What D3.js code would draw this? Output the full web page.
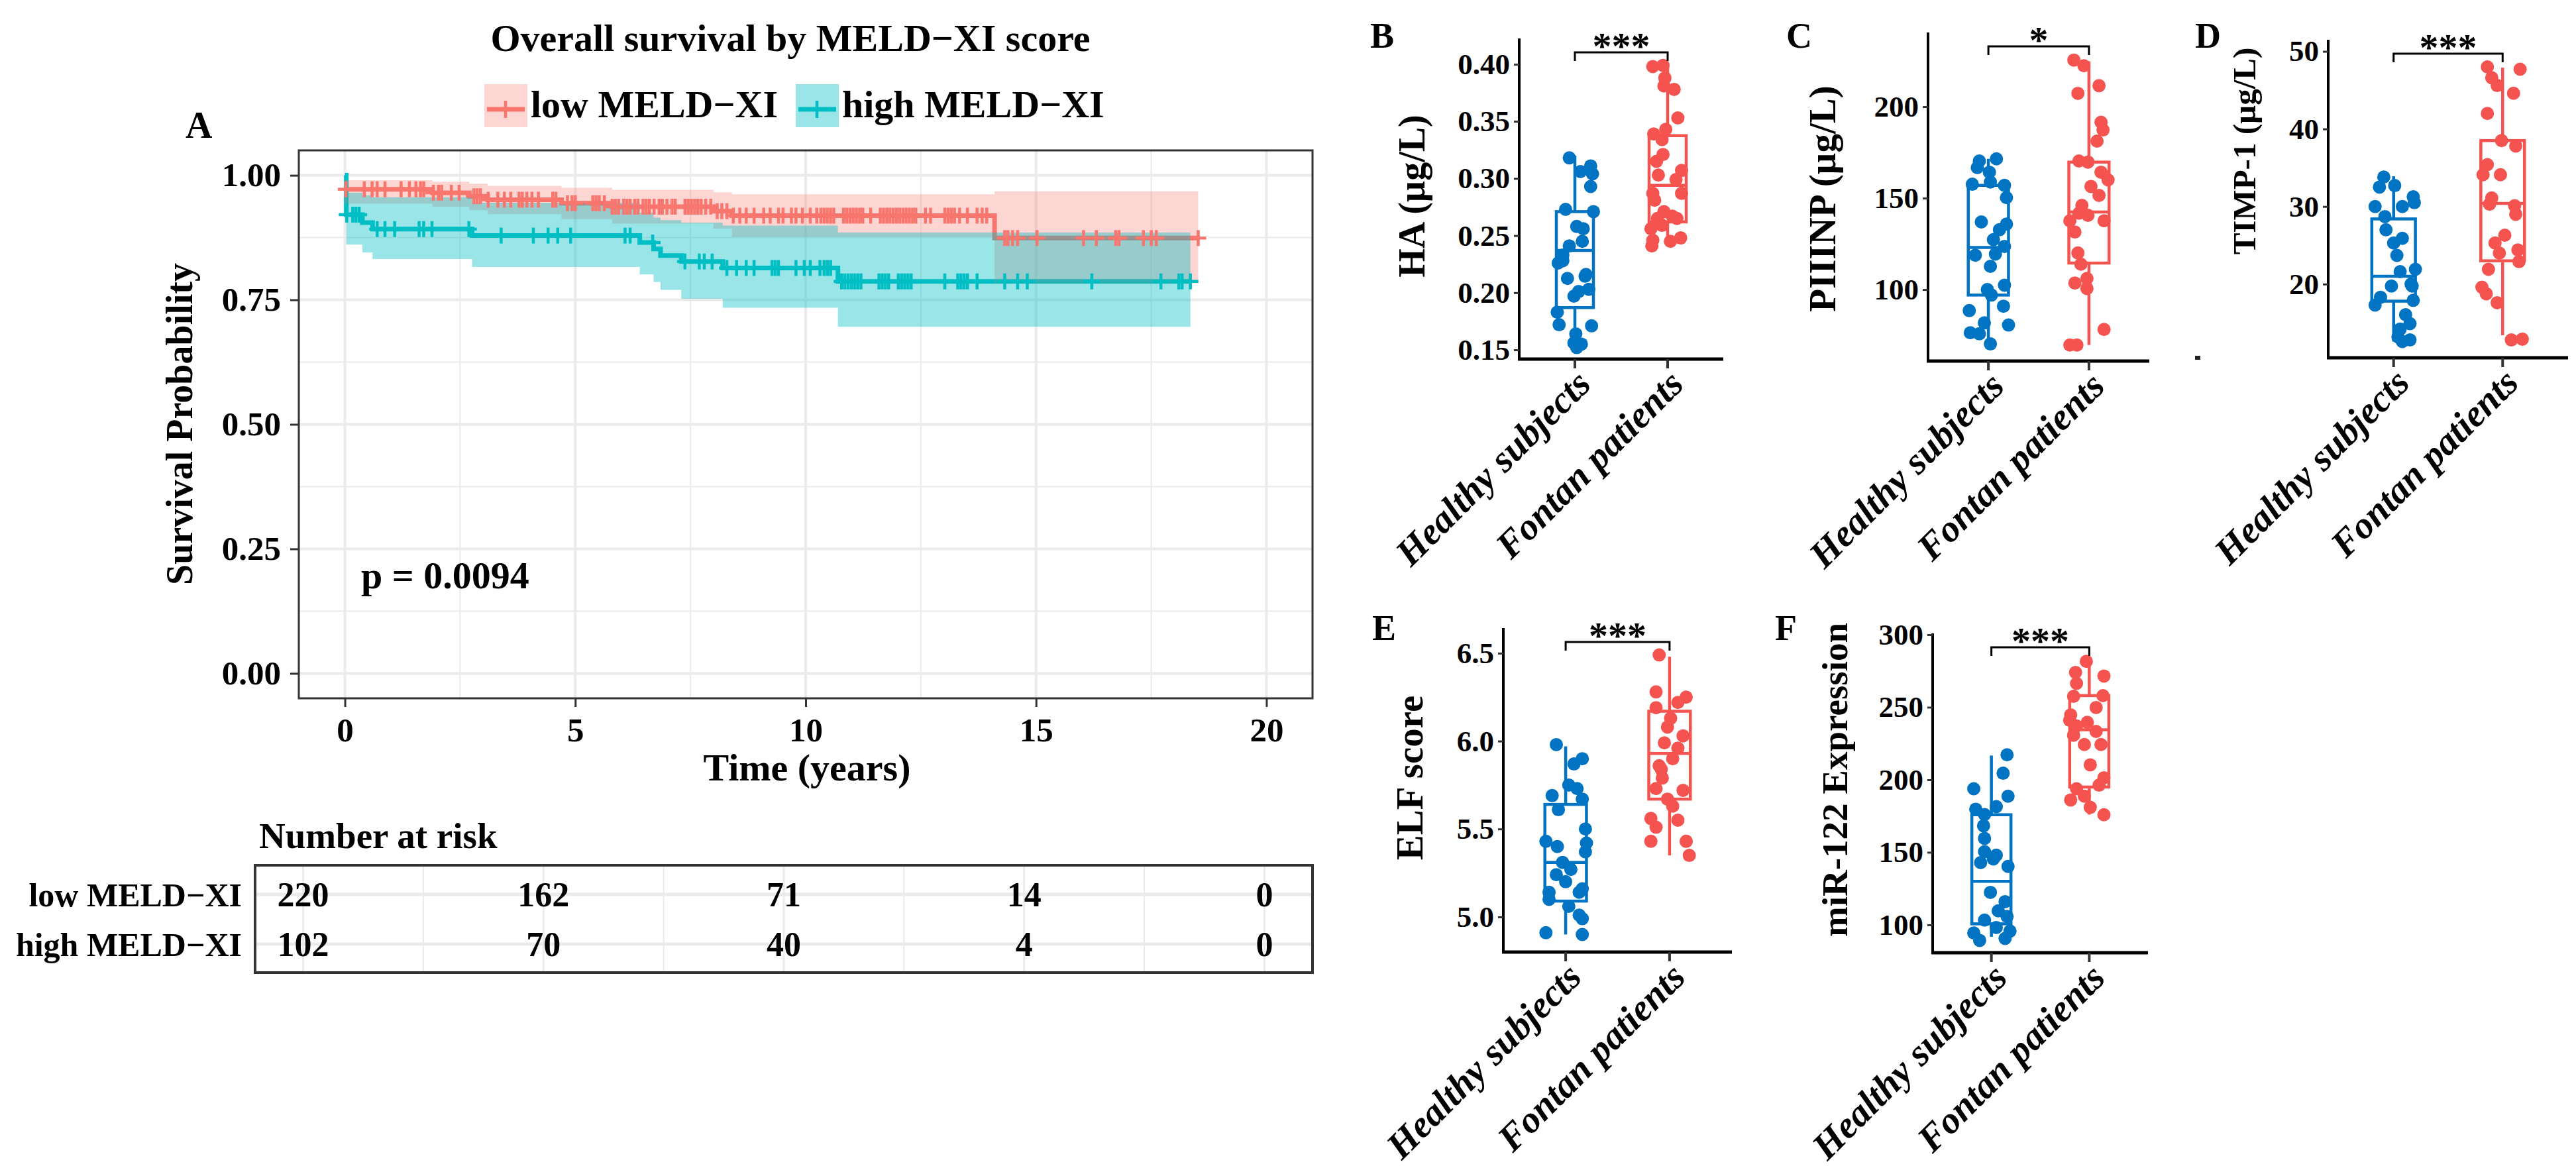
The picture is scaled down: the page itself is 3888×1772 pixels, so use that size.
<!DOCTYPE html>
<html>
<head>
<meta charset="utf-8">
<script src="https://cdn.jsdelivr.net/npm/d3@7"></script>
<style>
body { margin: 0; background: #fff; }
svg { display: block; font-family: "Liberation Serif", "Times New Roman", serif; }
</style>
</head>
<body>
<svg id="fig" width="3888" height="1772"></svg>
<script>
// ---- panel A: Kaplan-Meier by MELD-XI ----
var groupNames = ["low MELD\u2212XI", "high MELD\u2212XI"];
var kmTimeTicks = [0, 5, 10, 15, 20];
var kmProbTicks = [0, 0.25, 0.5, 0.75, 1];
var pValueText = "p = 0.0094";

var lowTimes = [0, 1.9, 2.7, 3.1, 4.7, 5.8, 8.0, 8.4, 14.1];
var lowSurv  = [0.972, 0.965, 0.958, 0.951, 0.944, 0.937, 0.928, 0.919, 0.874];
var lowUpper = [0.990, 0.987, 0.983, 0.979, 0.975, 0.971, 0.966, 0.962, 0.968];
var lowLower = [0.943, 0.937, 0.930, 0.922, 0.912, 0.903, 0.893, 0.876, 0.783];
var lowEnd = 18.52;
var lowCensor = [0.02, 0.42, 0.59, 0.70, 0.87, 1.22, 1.40, 1.54, 1.64, 1.71, 1.92, 2.03, 2.10, 2.31, 2.48,
  2.80, 2.87, 2.94, 3.11, 3.32, 3.46, 3.60, 3.78, 3.85, 3.95, 4.06, 4.20, 4.51, 4.58, 4.83, 4.93, 5.00,
  5.38, 5.45, 5.52, 5.63, 5.80, 5.87, 5.94, 6.05, 6.12, 6.19, 6.29, 6.36, 6.47, 6.54, 6.61, 6.71, 6.82,
  6.89, 6.99, 7.10, 7.17, 7.38, 7.45, 7.52, 7.59, 7.66, 7.73, 7.83, 7.94, 8.08, 8.18, 8.29, 8.43, 8.57,
  8.71, 8.88, 9.09, 9.23, 9.41, 9.51, 9.69, 9.79, 9.93, 10.10, 10.24, 10.33, 10.40, 10.47, 10.54, 10.61,
  10.82, 10.89, 10.96, 11.03, 11.10, 11.17, 11.24, 11.41, 11.62, 11.69, 11.76, 11.83, 11.90, 11.97, 12.04,
  12.11, 12.18, 12.25, 12.32, 12.39, 12.60, 12.71, 13.02, 13.09, 13.16, 13.23, 13.34, 13.51, 13.72, 13.83,
  13.93, 14.32, 14.39, 14.49, 14.60, 15.02, 16.03, 16.31, 16.73, 16.80, 17.33, 17.50, 17.61, 18.52];

var highTimes = [0, 0.03, 0.38, 0.6, 2.76, 6.4, 6.7, 6.85, 7.3, 8.2, 10.7];
var highSurv  = [1.0, 0.921, 0.905, 0.892, 0.879, 0.865, 0.852, 0.839, 0.827, 0.814, 0.787];
var highUpper = [1.0, 0.965, 0.960, 0.956, 0.945, 0.925, 0.915, 0.910, 0.905, 0.899, 0.885];
var highLower = [1.0, 0.861, 0.845, 0.832, 0.816, 0.801, 0.786, 0.770, 0.752, 0.734, 0.696];
var highEnd = 18.35;
var highCensor = [0.04, 0.17, 0.24, 0.31, 0.70, 0.87, 1.08, 1.61, 1.71, 1.89, 2.69, 3.39, 4.09, 4.41,
  4.62, 4.90, 6.08, 6.19, 6.68, 7.38, 7.69, 7.80, 7.97, 8.29, 8.50, 8.71, 8.88, 9.27, 9.34, 9.41, 9.79,
  9.97, 10.10, 10.31, 10.40, 10.47, 10.54, 10.78, 10.85, 10.92, 10.99, 11.06, 11.13, 11.20, 11.59, 11.66,
  11.73, 11.80, 12.01, 12.08, 12.15, 12.22, 12.29, 13.02, 13.30, 13.37, 13.44, 13.51, 13.72, 14.32,
  14.60, 14.81, 16.21, 17.71, 18.10, 18.17, 18.35];

var riskTimes = [0, 5, 10, 15, 20];
var riskLow = [220, 162, 71, 14, 0];
var riskHigh = [102, 70, 40, 4, 0];

// ---- panels B-F: box plots ----
var boxCategories = ["Healthy subjects", "Fontan patients"];

var haTicks = [0.15, 0.20, 0.25, 0.30, 0.35, 0.40];
var haHealthy = [0.318, 0.311, 0.306, 0.304, 0.293, 0.273, 0.271, 0.258, 0.256, 0.245, 0.241, 0.233, 0.226, 0.2125,
  0.2145, 0.203, 0.197, 0.201, 0.183, 0.172, 0.171, 0.164, 0.156, 0.155, 0.152, 0.216, 0.228];
var haHealthyJit = [-0.06, 0.17, 0.06, 0.19, 0.17, -0.10, 0.20, 0.02, 0.09, 0.08, -0.06, -0.13, -0.18, -0.08,
  0.11, 0.15, -0.01, 0.04, -0.19, -0.17, 0.18, 0.01, -0.01, 0.07, 0.02, 0.12, -0.13];
var haFontan = [0.398, 0.399, 0.388, 0.381, 0.378, 0.353, 0.343, 0.339, 0.334, 0.321, 0.315, 0.307, 0.303, 0.299,
  0.287, 0.287, 0.281, 0.271, 0.265, 0.265, 0.256, 0.259, 0.246, 0.241, 0.245, 0.248, 0.267];
var haFontanJit = [-0.16, -0.05, -0.03, -0.04, 0.07, 0.11, -0.02, -0.15, -0.06, -0.05, -0.12, 0.15, -0.10, 0.09,
  0.15, -0.16, -0.14, -0.04, -0.11, 0.10, -0.18, -0.06, -0.16, -0.17, 0.03, 0.14, 0.05];
var haHealthyBox = [0.150, 0.187, 0.237, 0.271, 0.320];
var haFontanBox = [0.249, 0.262, 0.294, 0.3375, 0.400];

var p3Ticks = [100, 150, 200];
var p3Healthy = [170.3, 171.5, 166.7, 164.2, 157.6, 158.8, 157, 150.3, 137, 135.8, 132.7, 127.3, 123.6, 118.8,
  119.4, 112.7, 102.4, 100, 97, 90.9, 88.5, 81.8, 80.6, 76.4, 75.8, 70.3];
var p3HealthyJit = [-0.09, 0.08, -0.11, 0.01, -0.16, 0.02, 0.16, 0.18, -0.07, 0.18, 0.11, 0.05, 0.16, -0.13,
  0.07, 0.02, 0.16, -0.01, 0.03, 0.15, -0.19, -0.04, 0.20, -0.18, -0.09, 0.02];
var p3Fontan = [225.5, 222.4, 211.5, 207.3, 191.5, 187.3, 181.2, 170.3, 169.7, 164.2, 160, 156.4, 151.5, 146,
  141.8, 137.6, 140.6, 137.6, 131.5, 120, 113.9, 106.1, 103.6, 100.6, 78.2, 69.7, 69.7];
var p3FontanJit = [-0.15, -0.05, 0.10, -0.11, 0.12, 0.14, 0.08, -0.10, -0.01, 0.12, 0.19, 0.02, 0.10, -0.07,
  -0.10, -0.19, -0.01, 0.15, -0.14, -0.11, -0.08, -0.02, -0.14, -0.02, 0.15, -0.19, -0.12];
var p3HealthyBox = [72, 97, 123, 157, 171.5];
var p3FontanBox = [69.7, 114.5, 142.4, 169.7, 224.8];

var timpTicks = [20, 30, 40, 50];
var timpHealthy = [33.8, 32.5, 32.7, 31.25, 30.5, 30.0, 30.0, 28.7, 27.0, 25.9, 25.3, 23.7, 21.9, 21.6, 19.75,
  19.75, 18.3, 17.9, 17.3, 16.05, 14.9, 14.2, 13.2, 12.8, 12.6, 20.0];
var timpHealthyJit = [-0.09, -0.13, 0.01, 0.18, 0.19, -0.17, 0.08, -0.08, -0.07, 0.08, 0.0, 0.03, 0.20, 0.06,
  -0.02, 0.17, -0.12, 0.18, -0.17, 0.11, 0.15, 0.06, 0.04, 0.15, 0.08, 0.16];
var timpFontan = [48.0, 47.7, 46.6, 45.6, 44.6, 42.0, 38.5, 37.8, 35.4, 34.1, 34.1, 31.1, 30.3, 30.1, 29.0, 26.3,
  25.3, 24.0, 24.4, 22.9, 21.9, 19.6, 18.75, 17.6, 12.8, 12.9];
var timpFontanJit = [-0.14, 0.16, -0.10, -0.05, 0.10, -0.14, -0.01, 0.12, -0.14, -0.18, -0.02, -0.10, -0.12,
  0.11, 0.12, 0.02, -0.07, -0.03, 0.14, 0.15, -0.13, -0.19, -0.15, -0.05, 0.08, 0.18];
var timpHealthyBox = [12.6, 17.8, 21.0, 28.4, 33.9];
var timpFontanBox = [13.4, 23.0, 30.4, 38.5, 47.9];

var elfTicks = [5.0, 5.5, 6.0, 6.5];
var elfHealthy = [5.98, 5.90, 5.87, 5.75, 5.73, 5.69, 5.67, 5.61, 5.50, 5.43, 5.40, 5.42, 5.37, 5.31, 5.27, 5.24,
  5.20, 5.16, 5.14, 5.14, 5.10, 5.06, 5.01, 4.99, 4.91, 4.90];
var elfHealthyJit = [-0.09, 0.16, 0.08, 0.03, 0.11, -0.13, 0.16, -0.07, 0.19, -0.19, -0.08, 0.20, 0.19, -0.03,
  0.05, -0.09, 0.0, 0.16, -0.16, 0.13, -0.16, 0.03, 0.13, 0.16, -0.19, 0.16];
var elfFontan = [6.49, 6.28, 6.25, 6.22, 6.19, 6.13, 6.08, 6.03, 5.99, 5.96, 5.90, 5.86, 5.84, 5.79, 5.73, 5.72,
  5.67, 5.63, 5.56, 5.55, 5.51, 5.43, 5.43, 5.35];
var elfFontanJit = [-0.10, -0.13, 0.16, 0.08, -0.13, 0.01, -0.02, 0.13, -0.05, 0.08, 0.03, -0.10, -0.08, -0.07,
  -0.13, 0.13, -0.02, 0.03, -0.18, 0.08, -0.13, -0.18, 0.16, 0.19];
var elfHealthyBox = [4.90, 5.09, 5.31, 5.64, 5.97];
var elfFontanBox = [5.35, 5.67, 5.93, 6.17, 6.48];

var mirTicks = [100, 150, 200, 250, 300];
var mirHealthy = [217.2, 204.5, 193.8, 188.7, 181.5, 179.7, 176, 168.3, 159.6, 150.4, 148, 142.9, 140.3, 145.4,
  122.4, 116, 109.7, 105.8, 103.3, 98.2, 94.4, 95.7, 89.3, 90.6];
var mirHealthyJit = [0.16, 0.12, -0.18, 0.17, 0.05, -0.16, -0.07, -0.08, -0.07, -0.07, 0.05, -0.11, 0.17, 0.02,
  -0.01, 0.14, 0.07, 0.16, -0.07, 0.05, -0.18, 0.19, -0.12, 0.14];
var mirFontan = [281.6, 274, 271.5, 266.4, 257.5, 258, 249.8, 244.7, 241, 239.6, 237.1, 233.3, 230.7, 224.3, 224.3,
  210.3, 201.4, 196.3, 193.8, 188.7, 186.1, 181, 175.9];
var mirFontanJit = [-0.03, -0.14, 0.15, -0.13, -0.16, 0.14, 0.07, -0.19, -0.20, -0.02, -0.13, 0.07, -0.16, -0.05,
  0.12, 0.01, 0.15, 0.10, -0.13, -0.05, -0.19, 0.01, 0.15];
var mirHealthyBox = [91.8, 100.7, 130, 175.9, 216.7];
var mirFontanBox = [176, 195, 234.5, 258, 281.6];

var lowColor = "#F8766D";
var highColor = "#00BFC4";
var healthyColor = "#0073C2";
var fontanColor = "#F5534F";
var gridColor = "#EBEBEB";

var svg = d3.select("#fig");
svg.append("rect").attr("width", 3888).attr("height", 1772).attr("fill", "#fff");

function survAt(times, surv, t) {
    var i = d3.bisectRight(times, t) - 1;
    return surv[Math.max(i, 0)];
}

function stepRows(times, surv, upper, lower, end) {
    var rows = times.map(function (t, i) {
        return { t: t, s: surv[i], up: upper[i], lo: lower[i] };
    });
    var last = rows[rows.length - 1];
    rows.push({ t: end, s: last.s, up: last.up, lo: last.lo });
    return rows;
}

function drawKM() {
    var left = 451, right = 1981, top = 227, bottom = 1054;
    var x = d3.scaleLinear().domain([-1, 21]).range([left, right]);
    var y = d3.scaleLinear().domain([-0.05, 1.05]).range([bottom, top]);
    var g = svg.append("g");

    // grid
    var minorX = kmTimeTicks.slice(1).map(function (d) { return d - 2.5; });
    var minorY = kmProbTicks.slice(1).map(function (d) { return d - 0.125; });
    g.selectAll(".mx").data(minorX).enter().append("line")
        .attr("x1", function (d) { return x(d); }).attr("x2", function (d) { return x(d); })
        .attr("y1", top).attr("y2", bottom).attr("stroke", gridColor).attr("stroke-width", 2);
    g.selectAll(".my").data(minorY).enter().append("line")
        .attr("y1", function (d) { return y(d); }).attr("y2", function (d) { return y(d); })
        .attr("x1", left).attr("x2", right).attr("stroke", gridColor).attr("stroke-width", 2);
    g.selectAll(".gx").data(kmTimeTicks).enter().append("line")
        .attr("x1", function (d) { return x(d); }).attr("x2", function (d) { return x(d); })
        .attr("y1", top).attr("y2", bottom).attr("stroke", gridColor).attr("stroke-width", 4);
    g.selectAll(".gy").data(kmProbTicks).enter().append("line")
        .attr("y1", function (d) { return y(d); }).attr("y2", function (d) { return y(d); })
        .attr("x1", left).attr("x2", right).attr("stroke", gridColor).attr("stroke-width", 4);

    var lowRows = stepRows(lowTimes, lowSurv, lowUpper, lowLower, lowEnd);
    var highRows = stepRows(highTimes, highSurv, highUpper, highLower, highEnd);
    var line = d3.line().curve(d3.curveStepAfter)
        .x(function (d) { return x(d.t); }).y(function (d) { return y(d.s); });
    var band = d3.area().curve(d3.curveStepAfter)
        .x(function (d) { return x(d.t); })
        .y0(function (d) { return y(d.lo); }).y1(function (d) { return y(d.up); });

    g.append("path").attr("d", line(lowRows)).attr("fill", "none")
        .attr("stroke", lowColor).attr("stroke-width", 7);
    g.append("path").attr("d", line(highRows)).attr("fill", "none")
        .attr("stroke", highColor).attr("stroke-width", 7);
    g.append("path").attr("d", band(lowRows)).attr("fill", lowColor).attr("fill-opacity", 0.3);
    g.append("path").attr("d", band(highRows)).attr("fill", highColor).attr("fill-opacity", 0.4);

    function censor(times, surv, marks, color) {
        var cg = g.append("g").attr("stroke", color).attr("stroke-width", 4.5);
        cg.selectAll("line.v").data(marks).enter().append("line")
            .attr("x1", function (d) { return x(d); }).attr("x2", function (d) { return x(d); })
            .attr("y1", function (d) { return y(survAt(times, surv, d)) - 12; })
            .attr("y2", function (d) { return y(survAt(times, surv, d)) + 12; });
        cg.selectAll("line.h").data(marks).enter().append("line")
            .attr("x1", function (d) { return x(d) - 12; }).attr("x2", function (d) { return x(d) + 12; })
            .attr("y1", function (d) { return y(survAt(times, surv, d)); })
            .attr("y2", function (d) { return y(survAt(times, surv, d)); });
    }
    censor(lowTimes, lowSurv, lowCensor, lowColor);
    censor(highTimes, highSurv, highCensor, highColor);

    g.append("rect").attr("x", left).attr("y", top).attr("width", right - left).attr("height", bottom - top)
        .attr("fill", "none").attr("stroke", "#333").attr("stroke-width", 3);

    // axes
    var ax = g.append("g").attr("transform", "translate(0," + bottom + ")")
        .call(d3.axisBottom(x).tickValues(kmTimeTicks).tickSize(13).tickPadding(16).tickFormat(d3.format("d")));
    var ay = g.append("g").attr("transform", "translate(" + left + ",0)")
        .call(d3.axisLeft(y).tickValues(kmProbTicks).tickSize(13).tickPadding(14).tickFormat(d3.format(".2f")));
    [ax, ay].forEach(function (a) {
        a.select(".domain").remove();
        a.selectAll(".tick line").attr("stroke", "#333").attr("stroke-width", 3);
        a.selectAll(".tick text").attr("font-size", 51).attr("font-weight", "bold").attr("fill", "#000")
            .attr("font-family", "Liberation Serif");
    });

    g.append("text").attr("x", 1218).attr("y", 1178).attr("text-anchor", "middle")
        .attr("font-size", 58).attr("font-weight", "bold").text("Time (years)");
    g.append("text").attr("transform", "translate(290,640) rotate(-90)").attr("text-anchor", "middle")
        .attr("font-size", 56).attr("font-weight", "bold").text("Survival Probability");
    g.append("text").attr("x", 545).attr("y", 888).attr("font-size", 58).attr("font-weight", "bold")
        .text(pValueText);

    // title, legend, letter
    svg.append("text").attr("x", 1193).attr("y", 77).attr("text-anchor", "middle")
        .attr("font-size", 58).attr("font-weight", "bold").text("Overall survival by MELD\u2212XI score");
    svg.append("text").attr("x", 280).attr("y", 208).attr("font-size", 56).attr("font-weight", "bold").text("A");

    var legendX = [731, 1201];
    var legendColors = [lowColor, highColor];
    var legendAlpha = [0.3, 0.4];
    var lg = svg.append("g").selectAll("g").data(groupNames).enter().append("g")
        .attr("transform", function (d, i) { return "translate(" + legendX[i] + ",127)"; });
    lg.append("rect").attr("width", 65).attr("height", 65)
        .attr("fill", function (d, i) { return legendColors[i]; })
        .attr("fill-opacity", function (d, i) { return legendAlpha[i]; });
    lg.append("line").attr("x1", 4).attr("x2", 61).attr("y1", 38).attr("y2", 38)
        .attr("stroke", function (d, i) { return legendColors[i]; }).attr("stroke-width", 7);
    lg.append("line").attr("x1", 32).attr("x2", 32).attr("y1", 25).attr("y2", 51)
        .attr("stroke", function (d, i) { return legendColors[i]; }).attr("stroke-width", 4.5);
    lg.append("text").attr("x", 70).attr("y", 50).attr("font-size", 58).attr("font-weight", "bold")
        .text(function (d) { return d; });
}

function drawRiskTable() {
    var left = 385, right = 1981, top = 1306, bottom = 1468;
    var x = d3.scaleLinear().domain([-1, 21]).range([left, right]);
    var rows = d3.scalePoint().domain(groupNames).range([1350, 1425]);
    var g = svg.append("g");
    var minor = riskTimes.slice(1).map(function (d) { return d - 2.5; });
    g.selectAll(".rm").data(minor).enter().append("line")
        .attr("x1", function (d) { return x(d); }).attr("x2", function (d) { return x(d); })
        .attr("y1", top).attr("y2", bottom).attr("stroke", gridColor).attr("stroke-width", 2);
    g.selectAll(".rv").data(riskTimes).enter().append("line")
        .attr("x1", function (d) { return x(d); }).attr("x2", function (d) { return x(d); })
        .attr("y1", top).attr("y2", bottom).attr("stroke", gridColor).attr("stroke-width", 3);
    g.selectAll(".rh").data(groupNames).enter().append("line")
        .attr("y1", function (d) { return rows(d); }).attr("y2", function (d) { return rows(d); })
        .attr("x1", left).attr("x2", right).attr("stroke", gridColor).attr("stroke-width", 5);
    g.append("rect").attr("x", left).attr("y", top).attr("width", right - left).attr("height", bottom - top)
        .attr("fill", "none").attr("stroke", "#333").attr("stroke-width", 4);

    var counts = [riskLow, riskHigh];
    groupNames.forEach(function (name, i) {
        g.selectAll(null).data(counts[i]).enter().append("text")
            .attr("x", function (d, k) { return x(riskTimes[k]); })
            .attr("y", rows(name)).attr("dy", "0.35em").attr("text-anchor", "middle")
            .attr("font-size", 52).attr("font-weight", "bold").text(function (d) { return d; });
        g.append("text").attr("x", 365).attr("y", rows(name)).attr("dy", "0.35em").attr("text-anchor", "end")
            .attr("font-size", 50).attr("font-weight", "bold").text(name);
    });
    g.append("text").attr("x", 391).attr("y", 1280).attr("font-size", 55).attr("font-weight", "bold")
        .text("Number at risk");
}

var boxPanels = [
    { letter: "B", letterX: 2068, letterY: 72, ylab: "HA (\u00b5g/L)", ylabX: 2150, ylabY: 296, ylabSize: 56,
      left: 2293, right: 2601, top: 58, bottom: 542, domain: [0.1419, 0.4226], ticks: haTicks, fmt: ".2f",
      sig: "***", values: [haHealthy, haFontan], jitter: [haHealthyJit, haFontanJit], boxes: [haHealthyBox, haFontanBox] },
    { letter: "C", letterX: 2696, letterY: 72, ylab: "PIIINP (\u00b5g/L)", ylabX: 2770, ylabY: 300, ylabSize: 57,
      left: 2910, right: 3244, top: 49, bottom: 545, domain: [60.9, 240.6], ticks: p3Ticks, fmt: "d",
      sig: "*", values: [p3Healthy, p3Fontan], jitter: [p3HealthyJit, p3FontanJit], boxes: [p3HealthyBox, p3FontanBox] },
    { letter: "D", letterX: 3313, letterY: 72, ylab: "TIMP-1 (\u00b5g/L)", ylabX: 3404, ylabY: 228, ylabSize: 49,
      left: 3514, right: 3876, top: 60, bottom: 540, domain: [10.5, 51.5], ticks: timpTicks, fmt: "d",
      sig: "***", values: [timpHealthy, timpFontan], jitter: [timpHealthyJit, timpFontanJit], boxes: [timpHealthyBox, timpFontanBox] },
    { letter: "E", letterX: 2071, letterY: 966, ylab: "ELF score", ylabX: 2147, ylabY: 1174, ylabSize: 57,
      left: 2269, right: 2614, top: 948, bottom: 1437, domain: [4.80, 6.643], ticks: elfTicks, fmt: ".1f",
      sig: "***", values: [elfHealthy, elfFontan], jitter: [elfHealthyJit, elfFontanJit], boxes: [elfHealthyBox, elfFontanBox] },
    { letter: "F", letterX: 2679, letterY: 966, ylab: "miR-122 Expression", ylabX: 2788, ylabY: 1177, ylabSize: 55,
      left: 2917, right: 3242, top: 956, bottom: 1438, domain: [80.8, 300.9], ticks: mirTicks, fmt: "d",
      sig: "***", values: [mirHealthy, mirFontan], jitter: [mirHealthyJit, mirFontanJit], boxes: [mirHealthyBox, mirFontanBox] }
];

function drawBoxPanel(p) {
    var g = svg.append("g");
    var x = d3.scaleLinear().domain([0.4, 2.6]).range([p.left, p.right]);
    var y = d3.scaleLinear().domain(p.domain).range([p.bottom, p.top]);
    var colors = [healthyColor, fontanColor];

    p.boxes.forEach(function (b, i) {
        var cx = x(i + 1), hw = x(i + 1.2) - cx;
        var bg = g.append("g").attr("stroke", colors[i]).attr("stroke-width", 4.5).attr("fill", "none");
        bg.append("line").attr("x1", cx).attr("x2", cx).attr("y1", y(b[0])).attr("y2", y(b[1]));
        bg.append("line").attr("x1", cx).attr("x2", cx).attr("y1", y(b[3])).attr("y2", y(b[4]));
        bg.append("rect").attr("x", cx - hw).attr("y", y(b[3])).attr("width", 2 * hw)
            .attr("height", y(b[1]) - y(b[3]));
        bg.append("line").attr("x1", cx - hw).attr("x2", cx + hw).attr("y1", y(b[2])).attr("y2", y(b[2]));
    });

    p.values.forEach(function (vals, i) {
        g.selectAll(null).data(vals).enter().append("circle")
            .attr("cx", function (d, k) { return x(i + 1 + p.jitter[i][k]); })
            .attr("cy", function (d) { return y(d); })
            .attr("r", 10).attr("fill", colors[i]);
    });

    // axis lines
    g.append("line").attr("x1", p.left).attr("x2", p.left).attr("y1", p.top).attr("y2", p.bottom + 2)
        .attr("stroke", "#000").attr("stroke-width", 4);
    g.append("line").attr("x1", p.left - 2).attr("x2", p.right).attr("y1", p.bottom).attr("y2", p.bottom)
        .attr("stroke", "#000").attr("stroke-width", 5);

    var ay = g.append("g").attr("transform", "translate(" + p.left + ",0)")
        .call(d3.axisLeft(y).tickValues(p.ticks).tickSize(8).tickPadding(6).tickFormat(d3.format(p.fmt)));
    ay.select(".domain").remove();
    ay.selectAll(".tick line").attr("stroke", "#333").attr("stroke-width", 3);
    ay.selectAll(".tick text").attr("font-size", 45).attr("font-weight", "bold").attr("fill", "#000")
        .attr("font-family", "Liberation Serif");

    g.selectAll(".xt").data(boxCategories).enter().append("line")
        .attr("x1", function (d, i) { return x(i + 1); }).attr("x2", function (d, i) { return x(i + 1); })
        .attr("y1", p.bottom).attr("y2", p.bottom + 14).attr("stroke", "#333").attr("stroke-width", 4);
    g.selectAll(".xl").data(boxCategories).enter().append("text")
        .attr("transform", function (d, i) { return "translate(" + (x(i + 1) - 2) + "," + (p.bottom + 12) + ") rotate(-45)"; })
        .attr("text-anchor", "end").attr("dominant-baseline", "hanging")
        .attr("font-size", 57).attr("font-weight", "bold").attr("font-style", "italic")
        .text(function (d) { return d; });

    // significance bracket
    var by = p.top + 21;
    g.append("path")
        .attr("d", "M" + x(1) + "," + (by + 13) + "V" + by + "H" + x(2) + "V" + (by + 13))
        .attr("fill", "none").attr("stroke", "#000").attr("stroke-width", 3);
    g.append("text").attr("x", (x(1) + x(2)) / 2).attr("y", by + 10).attr("text-anchor", "middle")
        .attr("font-size", 58).attr("font-weight", "bold").text(p.sig);

    g.append("text").attr("transform", "translate(" + p.ylabX + "," + p.ylabY + ") rotate(-90)")
        .attr("text-anchor", "middle").attr("font-size", p.ylabSize).attr("font-weight", "bold").text(p.ylab);
    g.append("text").attr("x", p.letterX).attr("y", p.letterY).attr("font-size", 54).attr("font-weight", "bold")
        .text(p.letter);
}

drawKM();
drawRiskTable();
boxPanels.forEach(drawBoxPanel);
// stray mark left of panel D's axis, as in the source figure
svg.append("rect").attr("x", 3313).attr("y", 537).attr("width", 8).attr("height", 6).attr("fill", "#222");
</script>
</body>
</html>
